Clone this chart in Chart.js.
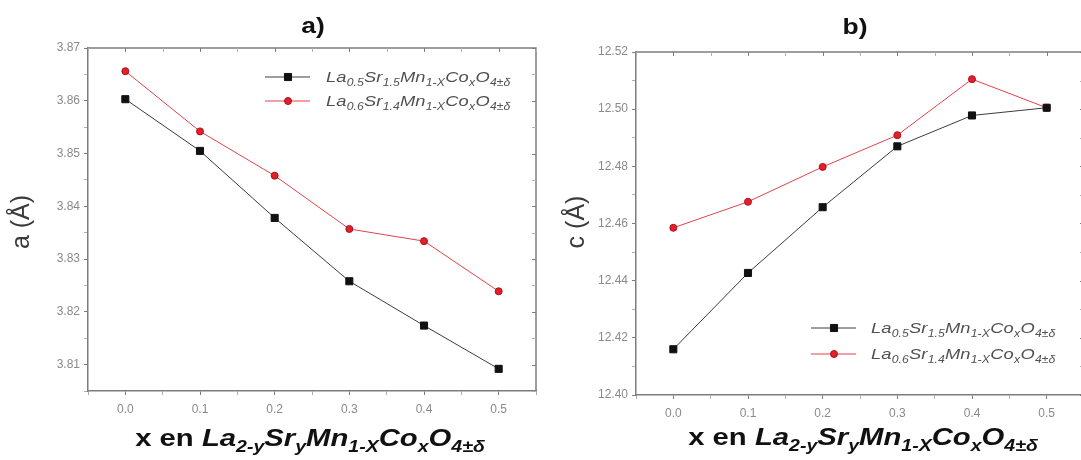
<!DOCTYPE html>
<html lang="es">
<head>
<meta charset="UTF-8">
<title>Parámetros de red a y c</title>
<script src="https://cdn.jsdelivr.net/npm/chart.js@4"></script>
<style>
  html, body { margin: 0; padding: 0; background: #fff; overflow: hidden; }
  #wrap { position: relative; width: 1081px; height: 460px; overflow: hidden; background: #fff; }
  canvas { position: absolute; top: 0; }
  #chartA { left: 0; }
  #chartB { left: 546px; }
</style>
</head>
<body>
<div id="wrap">
  <canvas id="chartA" width="545" height="460"></canvas>
  <canvas id="chartB" width="545" height="460"></canvas>
</div>
<script>
// composición x (Co) y parámetros de red
const xValues = [0.0, 0.1, 0.2, 0.3, 0.4, 0.5];
const aSr15 = [3.8603, 3.8505, 3.8378, 3.8258, 3.8174, 3.8092];
const aSr14 = [3.8656, 3.8542, 3.8458, 3.8357, 3.8334, 3.8239];
const cSr15 = [12.416, 12.4427, 12.4657, 12.487, 12.4978, 12.5005];
const cSr14 = [12.4585, 12.4676, 12.4798, 12.4909, 12.5105, 12.5005];

const xTickLabels = ['0.0', '0.1', '0.2', '0.3', '0.4', '0.5'];
const aTickLabels = ['3.81', '3.82', '3.83', '3.84', '3.85', '3.86', '3.87'];
const cTickLabels = ['12.40', '12.42', '12.44', '12.46', '12.48', '12.50', '12.52'];

// etiquetas con subíndices: [texto, esSubíndice]
const nameSr15 = [['La', 0], ['0.5', 1], ['Sr', 0], ['1.5', 1], ['Mn', 0], ['1-X', 1], ['Co', 0], ['x', 1], ['O', 0], ['4±δ', 1]];
const nameSr14 = [['La', 0], ['0.6', 1], ['Sr', 0], ['1.4', 1], ['Mn', 0], ['1-X', 1], ['Co', 0], ['x', 1], ['O', 0], ['4±δ', 1]];
const xTitle = [['x en ', 2], ['La', 0], ['2-y', 1], ['Sr', 0], ['y', 1], ['Mn', 0], ['1-X', 1], ['Co', 0], ['x', 1], ['O', 0], ['4±δ', 1]];

const FONT = '"Liberation Sans", Arial, sans-serif';
const AXIS_GRAY = '#7d7d7d';

function tickLabel(list, digits) {
  return function (value) {
    const s = value.toFixed(digits);
    return list.includes(s) && Math.abs(Number(s) - value) < 1e-7 ? s : '';
  };
}

// texto con subíndices, estirado en horizontal por "stretch"
function drawRich(ctx, parts, x, y, o) {
  const fontFor = (kind) => {
    const size = kind === 1 ? o.sub : o.size;
    const style = kind === 2 ? '' : 'italic ';
    return style + o.weight + ' ' + size + 'px ' + FONT;
  };
  let width = 0;
  parts.forEach(([t, k]) => { ctx.font = fontFor(k); width += ctx.measureText(t).width + o.spacing; });
  const start = o.align === 'center' ? x - width * o.stretch / 2 : x;
  ctx.save();
  ctx.translate(start, y);
  ctx.scale(o.stretch, 1);
  ctx.fillStyle = o.color;
  ctx.textBaseline = 'alphabetic';
  ctx.textAlign = 'left';
  let cx = 0;
  parts.forEach(([t, k]) => {
    ctx.font = fontFor(k);
    ctx.fillText(t, cx, k === 1 ? o.drop : 0);
    cx += ctx.measureText(t).width + o.spacing;
  });
  ctx.restore();
}

function drawSample(ctx, ds, x, y) {
  ctx.save();
  ctx.strokeStyle = ds.borderColor;
  ctx.lineWidth = ds.borderWidth;
  ctx.beginPath();
  ctx.moveTo(x - 23, y);
  ctx.lineTo(x + 22, y);
  ctx.stroke();
  ctx.fillStyle = ds.pointBackgroundColor;
  ctx.strokeStyle = ds.pointBorderColor;
  ctx.lineWidth = 1;
  ctx.beginPath();
  if (ds.pointStyle === 'rect') {
    const h = Math.SQRT1_2 * ds.pointRadius;
    ctx.rect(x - h, y - h, 2 * h, 2 * h);
  } else {
    ctx.arc(x, y, ds.pointRadius, 0, Math.PI * 2);
  }
  ctx.fill();
  ctx.stroke();
  ctx.restore();
}

// marco completo, marcas espejo, títulos y leyenda
const decorations = {
  id: 'decorations',
  afterDraw(chart, args, opts) {
    const ctx = chart.ctx;
    const area = chart.chartArea;
    const xs = chart.scales.x, ys = chart.scales.y;
    ctx.save();
    ctx.strokeStyle = AXIS_GRAY;
    ctx.lineWidth = 1.5;
    ctx.beginPath();
    ctx.moveTo(area.left, area.top);
    ctx.lineTo(area.right, area.top);
    ctx.lineTo(area.right, area.bottom);
    ctx.stroke();
    ctx.lineWidth = 1;
    xs.ticks.forEach(t => {
      const px = Math.round(xs.getPixelForValue(t.value)) + 0.5;
      ctx.strokeStyle = t.label ? AXIS_GRAY : '#b0b0b0';
      ctx.beginPath();
      ctx.moveTo(px, area.top);
      ctx.lineTo(px, area.top + 4);
      ctx.stroke();
    });
    ys.ticks.forEach(t => {
      const py = Math.round(ys.getPixelForValue(t.value)) + 0.5;
      ctx.strokeStyle = t.label ? AXIS_GRAY : '#b0b0b0';
      ctx.beginPath();
      ctx.moveTo(area.right, py);
      ctx.lineTo(area.right - 4, py);
      ctx.stroke();
    });

    // título del panel
    ctx.save();
    ctx.translate(opts.panel.x, opts.panel.y);
    ctx.scale(1.2, 1);
    ctx.font = 'bold 22px ' + FONT;
    ctx.fillStyle = '#111';
    ctx.textAlign = 'center';
    ctx.textBaseline = 'middle';
    ctx.fillText(opts.panel.text, 0, 0);
    ctx.restore();

    // título eje y
    ctx.save();
    ctx.translate(opts.yTitle.x, opts.yTitle.y);
    ctx.rotate(-Math.PI / 2);
    ctx.font = '25px ' + FONT;
    ctx.fillStyle = '#3a3a3a';
    ctx.textAlign = 'center';
    ctx.textBaseline = 'middle';
    ctx.fillText(opts.yTitle.text, 0, 0);
    ctx.restore();

    // título eje x
    drawRich(ctx, xTitle, opts.xTitle.x, opts.xTitle.y, {
      size: 24, sub: 16, weight: 'bold', color: '#111', stretch: 1.22, align: 'center', spacing: 0, drop: 6
    });

    // leyenda
    chart.data.datasets.forEach((ds, i) => {
      const y = opts.legend.y + i * opts.legend.gap;
      drawSample(ctx, ds, opts.legend.x, y);
      drawRich(ctx, ds.rich, opts.legend.textX, y + 5, {
        size: 15, sub: 10, weight: 'normal', color: '#505050', stretch: 1.22, align: 'left', spacing: 0.3, drop: 4
      });
    });
    ctx.restore();
  }
};

function makeChart(id, s15, s14, y, geo) {
  const seriesSr15 = {
    label: 'La0.5Sr1.5Mn1-XCoxO4±δ',
    rich: nameSr15,
    data: xValues.map((x, i) => ({ x: x, y: s15[i] })),
    borderColor: '#3c3c3c', borderWidth: 1,
    pointStyle: 'rect', pointRadius: 5, pointHoverRadius: 5,
    pointBackgroundColor: '#111', pointBorderColor: '#111'
  };
  const seriesSr14 = {
    label: 'La0.6Sr1.4Mn1-XCoxO4±δ',
    rich: nameSr14,
    data: xValues.map((x, i) => ({ x: x, y: s14[i] })),
    borderColor: '#e2434a', borderWidth: 1,
    pointStyle: 'circle', pointRadius: 3.5, pointHoverRadius: 3.5,
    pointBackgroundColor: '#e3202a', pointBorderColor: '#a8141c'
  };
  const tickFont = { family: FONT, size: 12 };
  const minorColor = c => (c.tick && c.tick.label) ? AXIS_GRAY : '#b0b0b0';
  return new Chart(document.getElementById(id), {
    type: 'line',
    data: { datasets: [seriesSr15, seriesSr14] },
    options: {
      responsive: false,
      animation: false,
      events: [],
      layout: { padding: { left: 0, right: geo.padRight, top: geo.top, bottom: 0 } },
      plugins: {
        legend: { display: false },
        tooltip: { enabled: false },
        decorations: geo.deco
      },
      scales: {
        x: {
          type: 'linear', min: -0.05, max: 0.55,
          grid: { drawOnChartArea: false, tickLength: 4, color: minorColor },
          border: { color: AXIS_GRAY, width: 1.5 },
          ticks: { stepSize: 0.05, autoSkip: false, maxRotation: 0, padding: 7, color: '#8a8a8a', font: tickFont,
                   callback: tickLabel(xTickLabels, 1) },
          afterFit: sc => { sc.height = geo.xHeight; }
        },
        y: {
          type: 'linear', min: y.min, max: y.max,
          grid: { drawOnChartArea: false, tickLength: 4, color: minorColor },
          border: { color: AXIS_GRAY, width: 1.5 },
          ticks: { stepSize: y.step, autoSkip: false, padding: 4, color: '#8a8a8a', font: tickFont,
                   callback: tickLabel(y.labels, 2) },
          afterFit: sc => { sc.width = geo.yWidth; }
        }
      }
    },
    plugins: [decorations]
  });
}

makeChart('chartA', aSr15, aSr14,
  { min: 3.805, max: 3.87, step: 0.005, labels: aTickLabels },
  { padRight: 9, top: 48, xHeight: 69, yWidth: 88,
    deco: {
      panel: { text: 'a)', x: 313, y: 27 },
      yTitle: { text: 'a (Å)', x: 22, y: 222 },
      xTitle: { x: 310, y: 446 },
      legend: { x: 288, y: 77, gap: 24, textX: 326 }
    } });

makeChart('chartB', cSr15, cSr14,
  { min: 12.40, max: 12.52, step: 0.01, labels: cTickLabels },
  { padRight: 6, top: 52, xHeight: 65, yWidth: 90,
    deco: {
      panel: { text: 'b)', x: 309, y: 28 },
      yTitle: { text: 'c (Å)', x: 31, y: 222 },
      xTitle: { x: 317, y: 445 },
      legend: { x: 288, y: 328, gap: 26, textX: 325 }
    } });
</script>
</body>
</html>
